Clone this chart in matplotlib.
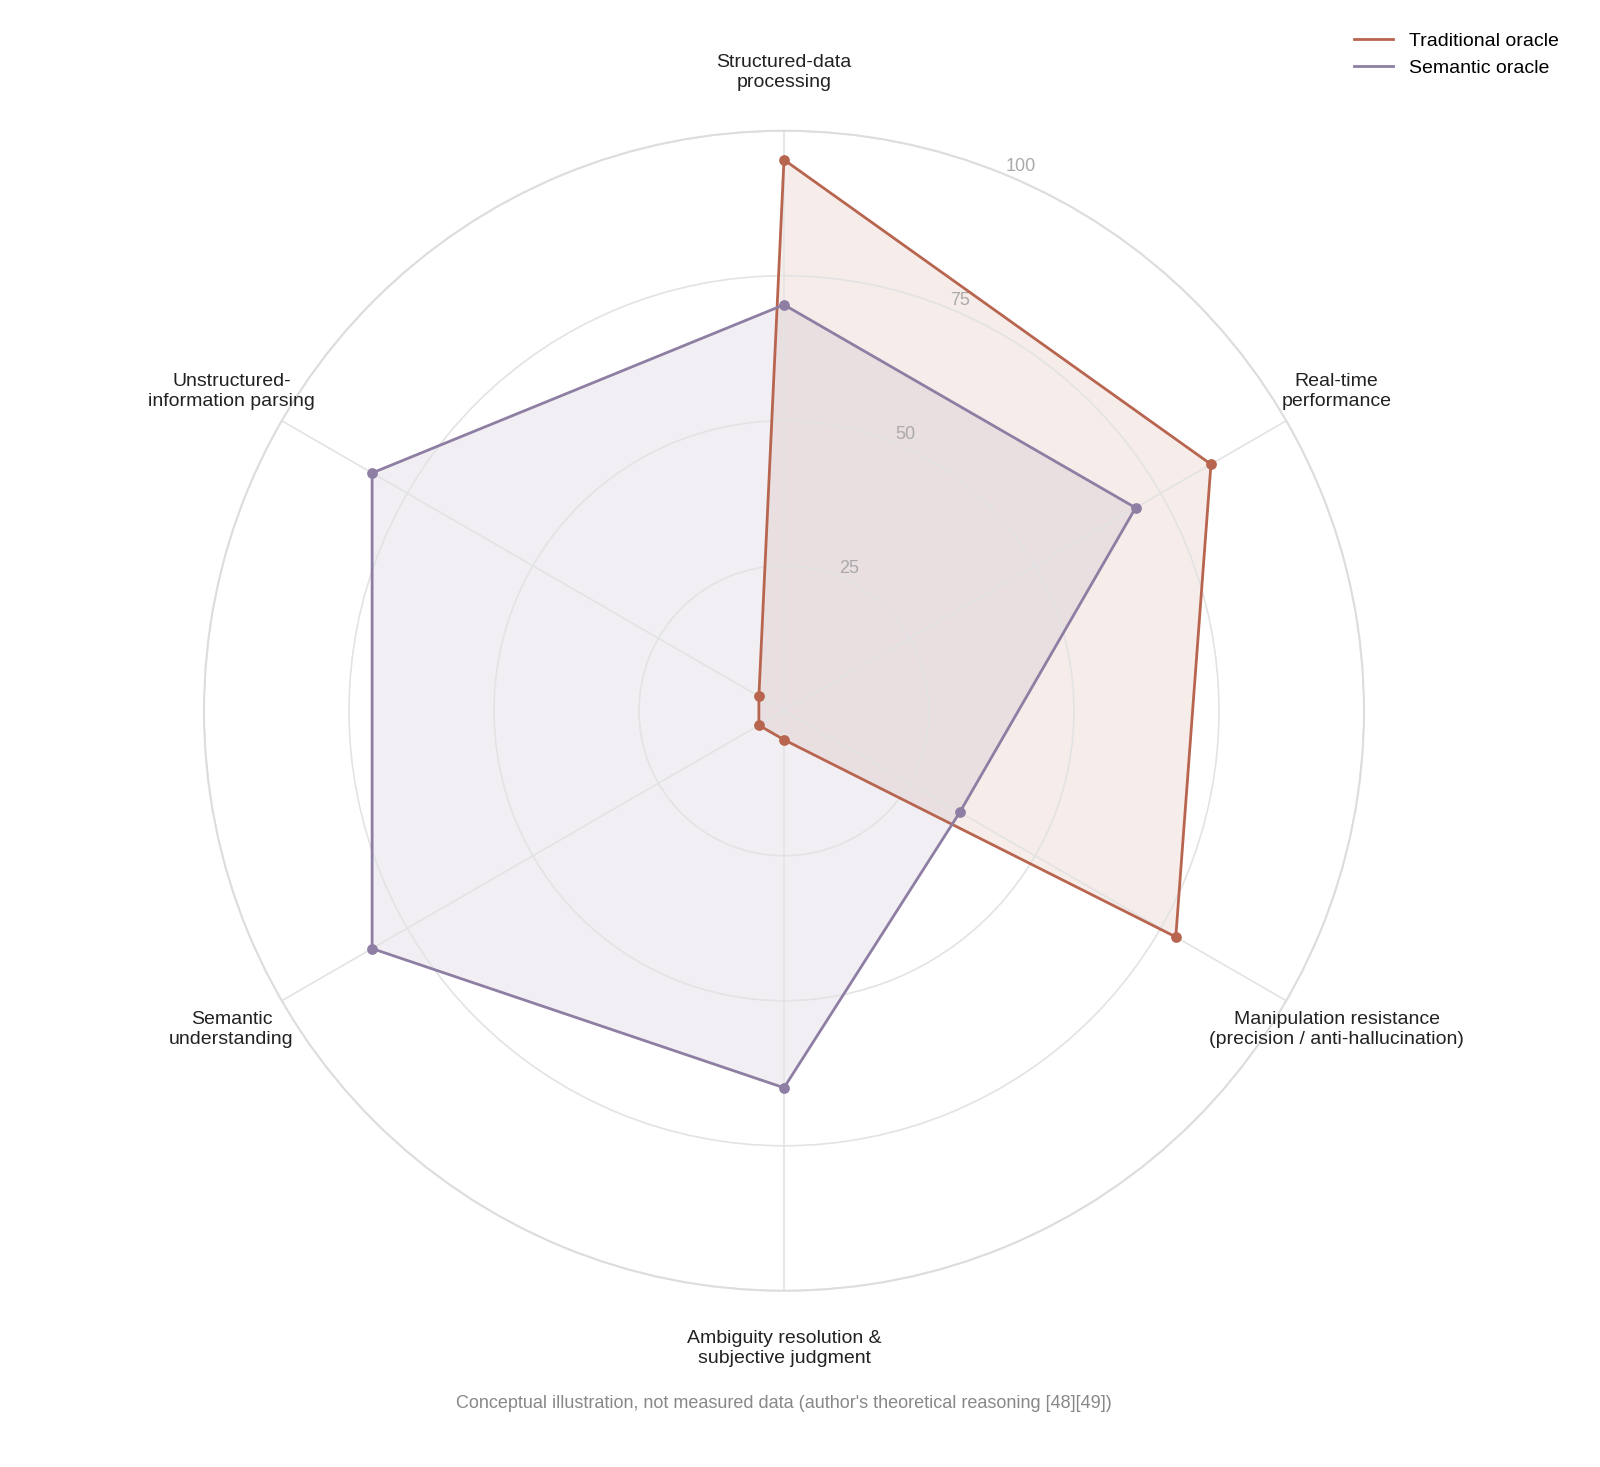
import numpy as np
import matplotlib.pyplot as plt

plt.rcParams['font.family'] = ['Liberation Sans', 'DejaVu Sans']

categories = ["Structured-data\nprocessing", "Real-time\nperformance",
              "Manipulation resistance\n(precision / anti-hallucination)",
              "Ambiguity resolution &\nsubjective judgment",
              "Semantic\nunderstanding", "Unstructured-\ninformation parsing"]
traditional = [95, 85, 78, 5, 5, 5]
semantic = [70, 70, 35, 65, 82, 82]
r_ticks = [25, 50, 75, 100]

c_trad = "#b8654f"
c_sem = "#8e7ea3"

fig = plt.figure(figsize=(16, 14.67), dpi=100)
ax = fig.add_axes([0.1275, 0.12, 0.725, 0.791], projection="polar")
ax.set_theta_zero_location("N")
ax.set_theta_direction(-1)

angles = np.linspace(0, 2 * np.pi, len(categories), endpoint=False)
closed = np.concatenate([angles, angles[:1]])

for vals, col, name in [(traditional, c_trad, "Traditional oracle"),
                        (semantic, c_sem, "Semantic oracle")]:
    v = np.concatenate([vals, vals[:1]])
    ax.fill(closed, v, color=col, alpha=0.12, lw=0)
    ax.plot(closed, v, color=col, lw=2, label=name)
    ax.scatter(angles, vals, color=col, s=45, zorder=5)

ax.set_ylim(0, 100)
ax.set_yticks(r_ticks)
ax.set_yticklabels([str(t) for t in r_ticks], color="#aaaaaa", fontsize=13)
ax.set_rlabel_position(22.5)
ax.set_xticks(angles)
ax.set_xticklabels([])
for a, lab in zip(angles, categories):
    ax.text(a, 110, lab, ha="center", va="center", fontsize=14, color="#222222")
ax.grid(color="#e3e3e3", lw=1.2)
ax.spines["polar"].set_color("#dddddd")
ax.spines["polar"].set_linewidth(1.5)

fig.legend(loc="upper right", bbox_to_anchor=(0.985, 0.99), frameon=False, fontsize=14)
fig.text(0.49, 0.04, "Conceptual illustration, not measured data (author's theoretical reasoning [48][49])",
         ha="center", fontsize=13, color="#888888")
fig.savefig("out.png", dpi=100)
